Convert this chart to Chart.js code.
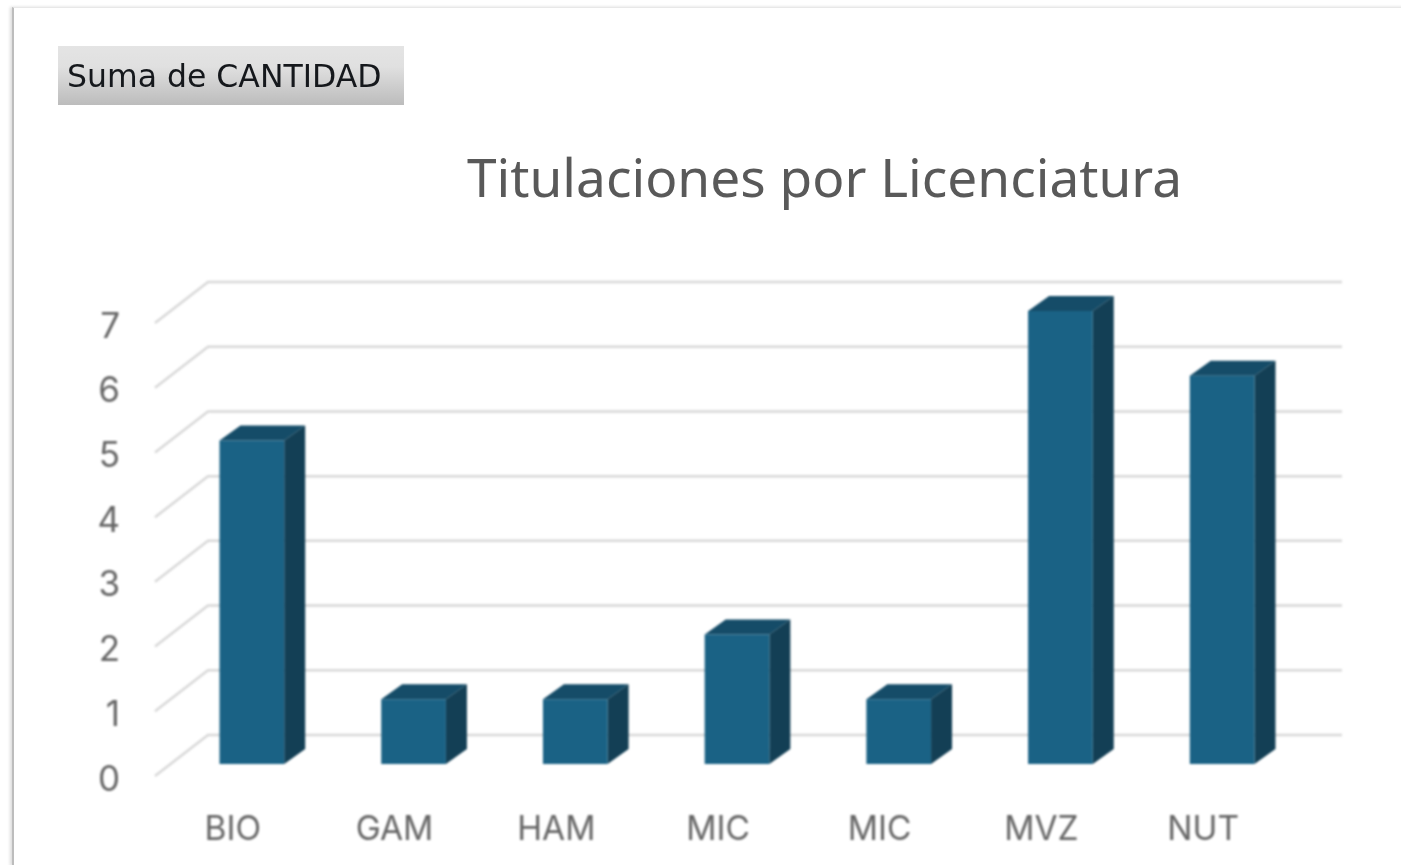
<!DOCTYPE html>
<html>
<head>
<meta charset="utf-8">
<title>Titulaciones por Licenciatura</title>
<script src="https://cdn.jsdelivr.net/npm/chart.js@4"></script>
<style>
  html, body { margin: 0; padding: 0; background: #fff; overflow: hidden; }
  #panel {
    position: absolute; left: 12px; top: 7px; width: 1400px; height: 857px;
    background: #fff; border-left: 2px solid #bdbdbd; border-top: 1px solid #e8e8e8;
    border-bottom: 1px solid #eeeeee; box-shadow: -2px 0 3px #dddddd;
  }
  #wrap { position: absolute; left: 0; top: 0; width: 1401px; height: 865px; filter: blur(0.8px); }
  #pill {
    position: absolute; left: 58px; top: 46px; width: 346px; height: 59px; line-height: 61px;
    background: linear-gradient(#e4e4e4, #e0e0e0 35%, #bcbcbc);
    font-family: "DejaVu Sans", sans-serif; font-size: 31.5px; color: #15181c;
    padding-left: 9px; box-sizing: border-box; white-space: nowrap; filter: blur(0.5px);
  }
  #title {
    position: absolute; left: 467px; top: 140px; margin: 0; white-space: nowrap;
    font-family: "Noto Sans", sans-serif; font-size: 53.2px; font-weight: 400; line-height: 74px; color: #595959;
    filter: blur(0.5px);
  }
</style>
</head>
<body>
<div id="panel"></div>
<div id="wrap"><canvas id="grafica" width="1401" height="865"></canvas></div>
<div id="pill">Suma de CANTIDAD</div>
<h1 id="title">Titulaciones por Licenciatura</h1>
<script>
const categories = ['BIO', 'GAM', 'HAM', 'MIC', 'MIC', 'MVZ', 'NUT'];
const cantidad = [5, 1, 1, 2, 1, 7, 6];
const yTicks = [0, 1, 2, 3, 4, 5, 6, 7];

const frontColor = '#1a6285';
const topColor = '#154c68';
const sideColor = '#133f55';
const gridColor = '#d8d8d8';

// offsets of the fake 3D, in pixels
const barDepthX = 21;
const barDepthY = -15;
const wallFrontX = -16;
const wallFrontY = 12;
const wallBackX = 37;
const wallBackY = -29;
const wallRightX = 39;

const walls3d = {
    id: 'walls3d',
    beforeDatasetsDraw(chart) {
        const { ctx, chartArea, scales: { y } } = chart;
        ctx.save();
        ctx.strokeStyle = gridColor;
        ctx.lineWidth = 2.5;
        yTicks.forEach(v => {
            const py = y.getPixelForValue(v);
            ctx.beginPath();
            ctx.moveTo(chartArea.left + wallFrontX, py + wallFrontY);
            ctx.lineTo(chartArea.left + wallBackX, py + wallBackY);
            ctx.lineTo(chartArea.right + wallRightX, py + wallBackY);
            ctx.stroke();
        });
        // top and side of every bar, the front face is the real bar
        chart.getDatasetMeta(0).data.forEach(bar => {
            const left = bar.x - bar.width / 2;
            const right = bar.x + bar.width / 2;
            ctx.fillStyle = topColor;
            ctx.beginPath();
            ctx.moveTo(left, bar.y);
            ctx.lineTo(left + barDepthX, bar.y + barDepthY);
            ctx.lineTo(right + barDepthX, bar.y + barDepthY);
            ctx.lineTo(right, bar.y);
            ctx.closePath();
            ctx.fill();
            ctx.fillStyle = sideColor;
            ctx.beginPath();
            ctx.moveTo(right, bar.y);
            ctx.lineTo(right + barDepthX, bar.y + barDepthY);
            ctx.lineTo(right + barDepthX, bar.base + barDepthY);
            ctx.lineTo(right, bar.base);
            ctx.closePath();
            ctx.fill();
        });
        ctx.restore();
    }
};

new Chart(document.getElementById('grafica'), {
    type: 'bar',
    data: {
        labels: categories,
        datasets: [{
            label: 'Suma de CANTIDAD',
            data: cantidad,
            backgroundColor: frontColor,
            categoryPercentage: 1,
            barPercentage: 0.4
        }]
    },
    options: {
        responsive: false,
        animation: false,
        layout: { padding: { top: 311, right: 98, bottom: 0, left: 0 } },
        plugins: { legend: { display: false }, tooltip: { enabled: false } },
        scales: {
            x: {
                afterFit: scale => { scale.height = 101; },
                border: { display: false },
                grid: { display: false, drawTicks: false },
                ticks: {
                    labelOffset: -19, padding: 46, maxRotation: 0, autoSkip: false,
                    color: '#666666', font: { family: 'Inter', size: 33.5 }
                }
            },
            y: {
                min: 0,
                max: 7,
                afterFit: scale => { scale.width = 171; },
                border: { display: false },
                grid: { display: false, drawTicks: false },
                afterBuildTicks: scale => { scale.ticks = yTicks.map(v => ({ value: v })); },
                ticks: {
                    labelOffset: 16, padding: 51,
                    color: '#666666', font: { family: 'Inter', size: 35 }
                }
            }
        }
    },
    plugins: [walls3d]
});
</script>
</body>
</html>
